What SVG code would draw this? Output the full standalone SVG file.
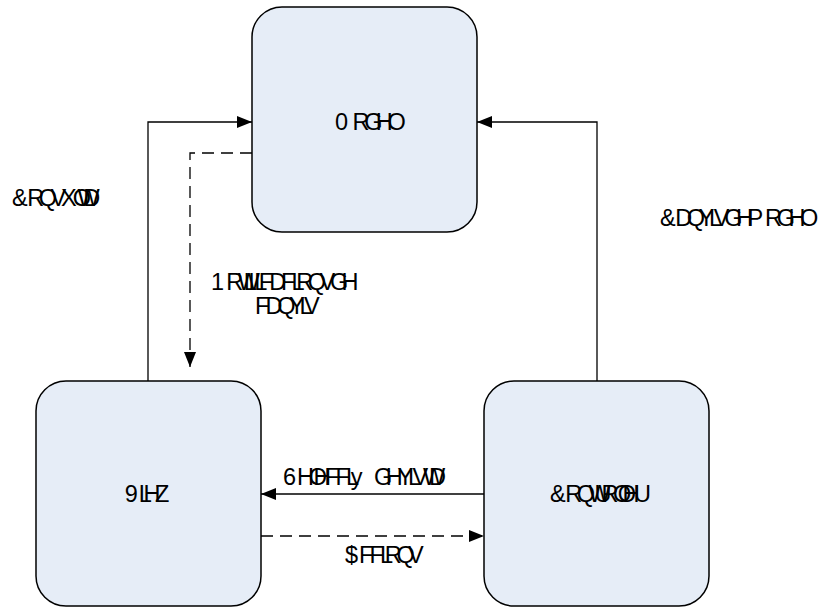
<svg xmlns="http://www.w3.org/2000/svg" width="823" height="607" viewBox="0 0 823 607">
<style>
.box{fill:#E6EDF7;stroke:#000;stroke-width:1.5}
.t{font-family:"Liberation Sans",Arial,sans-serif;font-size:23.5px;fill:#000}
.c{fill:none;stroke:#000;stroke-width:1.3}
.d{stroke-dasharray:12 7}
</style>
<defs>
<marker id="ah" markerUnits="userSpaceOnUse" markerWidth="16" markerHeight="13" refX="15" refY="6" orient="auto">
<path d="M0,0 L15,6 L0,12 z" fill="#000"/>
</marker>
</defs>
<rect width="823" height="607" fill="#fff"/>
<g id="connectors">
<path class="c" d="M148,381 V122 H252" marker-end="url(#ah)"/>
<path class="c" d="M597,381 V122 H477" marker-end="url(#ah)"/>
<path class="c d" d="M252,153 H190 V367" marker-end="url(#ah)"/>
<path class="c" d="M484,494 H261" marker-end="url(#ah)"/>
<path class="c d" d="M261,536 H484" marker-end="url(#ah)"/>
<text class="t" x="12 27.2 38.8 50.5 61 72.7 77.4 83.2" y="206">&amp;RQVXOWD</text>
<text class="t" x="660 675.2 686.8 698.5 709 713.7 724.2 735.9 747.5 765 776.7 788.4 800.1" y="226">&amp;DQYLVGHPRGHO</text>
<text class="t" x="211 226.2 237.8 243.7 248.3 254.2 258.8 269.3 281 291.5 296.2 307.8 319.5 330 341.6" y="290">1RWLILFDFLRQVGH</text>
<text class="t" x="255 265.5 277.2 288.9 299.4 304" y="314">FDQYLV</text>
<text class="t" x="283 297 308.7 313.4 325 335.5 346 350.7 362 374 385.7 397.4 407.9 412.6 423.1 428.9" y="485">6HOHFFLy GHYLVWD</text>
<text class="t" x="345 359 369.5 380 384.7 396.4 408" y="563">$FFLRQV</text>
</g>
<g id="model">
<rect class="box" x="252" y="7" width="225" height="225" rx="30"/>
<text class="t" x="335 352.5 364.2 375.8 387.5" y="130">0RGHO</text>
</g>
<g id="view">
<rect class="box" x="36" y="381" width="225" height="225" rx="30"/>
<text class="t" x="124.7 138.7 143.4 155" y="502">9LHZ</text>
</g>
<g id="controller">
<rect class="box" x="484" y="381" width="225" height="225" rx="30"/>
<text class="t" x="550 565.2 576.8 588.5 594.4 601.4 613 617.7 622.4 634" y="502">&amp;RQWUROOHU</text>
</g>
</svg>
